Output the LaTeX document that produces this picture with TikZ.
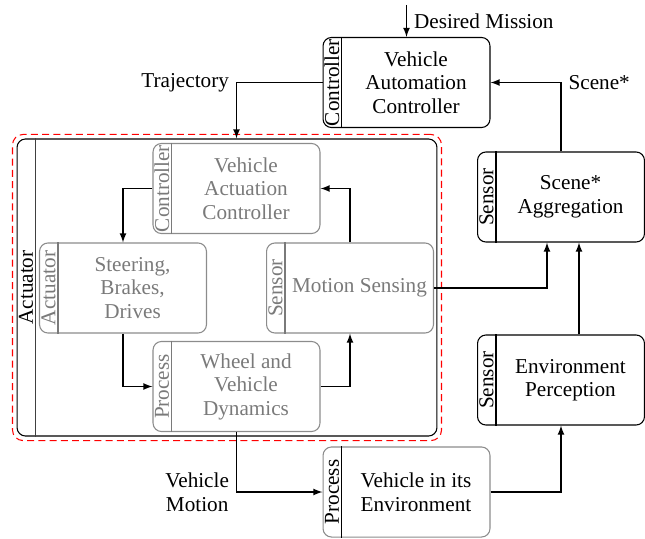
\documentclass[tikz,border=0pt]{standalone}
\usepackage{fontspec}
\setmainfont{Liberation Serif}
\usetikzlibrary{calc,fit}

\colorlet{boxgray}{black!45}
\colorlet{textgray}{black!52}

\tikzset{
  blk/.style={draw, rounded corners=4pt, minimum width=78.8pt, minimum height=42.5pt, inner sep=0pt},
  inblk/.style={blk, draw=boxgray},
  txt/.style={align=center, inner sep=0pt},
  tag/.style={rotate=90, inner sep=0pt},
  faded/.style={color=textgray},
}

% text, separator and side tag of a block
\newcommand{\blockparts}[4][]{%
  \node[txt,#1] at ($(#2.center)+(9.5,0)$) {#4};
  \draw[#1] ($(#2.north west)+(19,0)$) -- ($(#2.south west)+(19,0)$);
  \node[tag,#1] at ($(#2.west)+(9.5,0)$) {#3};
}

\begin{document}
\begin{tikzpicture}[x=0.472pt, y=0.472pt, >=latex, line width=0.5pt, font=\fontsize{10}{11.1}\selectfont]
    \useasboundingbox (0,0) rectangle (645,538);

    % outer loop
    \node[blk] (vac) at (406.5,455.5) {};
    \blockparts{vac}{Controller}{Vehicle\\Automation\\Controller}
    \node[blk] (sa) at (561,341) {};
    \blockparts{sa}{Sensor}{Scene*\\Aggregation}
    \node[blk] (ep) at (561,158) {};
    \blockparts{ep}{Sensor}{Environment\\Perception}
    \node[blk, draw=boxgray] (ve) at (406.5,46) {};
    \blockparts{ve}{Process}{Vehicle in its\\Environment}

    % actuator
    \node[blk, minimum width=198.2pt, minimum height=140.2pt] (act) at (227,250.5) {};
    \draw[black!75] ($(act.north west)+(19,0)$) -- ($(act.south west)+(19,0)$);
    \node[tag] at ($(act.west)+(9.5,0)$) {Actuator};
    \node[draw=red, dash pattern=on 3.3pt off 2pt, rounded corners=5pt, fit=(act), inner sep=1.9pt] (actframe) {};

    % inner loop
    \node[inblk] (vact) at (236.5,349.5) {};
    \blockparts[faded]{vact}{Controller}{Vehicle\\Actuation\\Controller}
    \node[inblk] (sbd) at (123,250) {};
    \blockparts[faded]{sbd}{Actuator}{Steering,\\Brakes,\\Drives}
    \node[inblk] (ms) at (350,250) {};
    \blockparts[faded]{ms}{Sensor}{Motion Sensing}
    \node[inblk] (wvd) at (236.5,151.5) {};
    \blockparts[faded]{wvd}{Process}{Wheel and\\Vehicle\\Dynamics}

    \draw[->] (vact.west) -| (sbd.north);
    \draw[->] (sbd.south) |- (wvd.west);
    \draw[->] (wvd.east) -| (ms.south);
    \draw[->] (ms.north) |- (vact.east);

    % connections
    \coordinate (mission) at (406.5,533);
    \draw[->] (mission) -- node[right] {Desired Mission} (vac.north);
    \draw[->] (vac.west) -| node[pos=0.5, left] {Trajectory} (vact.north |- act.north);
    \draw[->] (sa.north) |- node[pos=0.5, right] {Scene*} (vac.east);
    \draw[->] (ms.east) -| ($(sa.south)+(-14,0)$);
    \draw[->] ($(ep.north)+(18,0)$) -- ($(sa.south)+(18,0)$);
    \draw[->] (ve.east) -| (ep.south);
    \draw[->] (wvd.south) |- node[pos=0.5, left, align=center] {Vehicle\\Motion} (ve.west);
\end{tikzpicture}
\end{document}
